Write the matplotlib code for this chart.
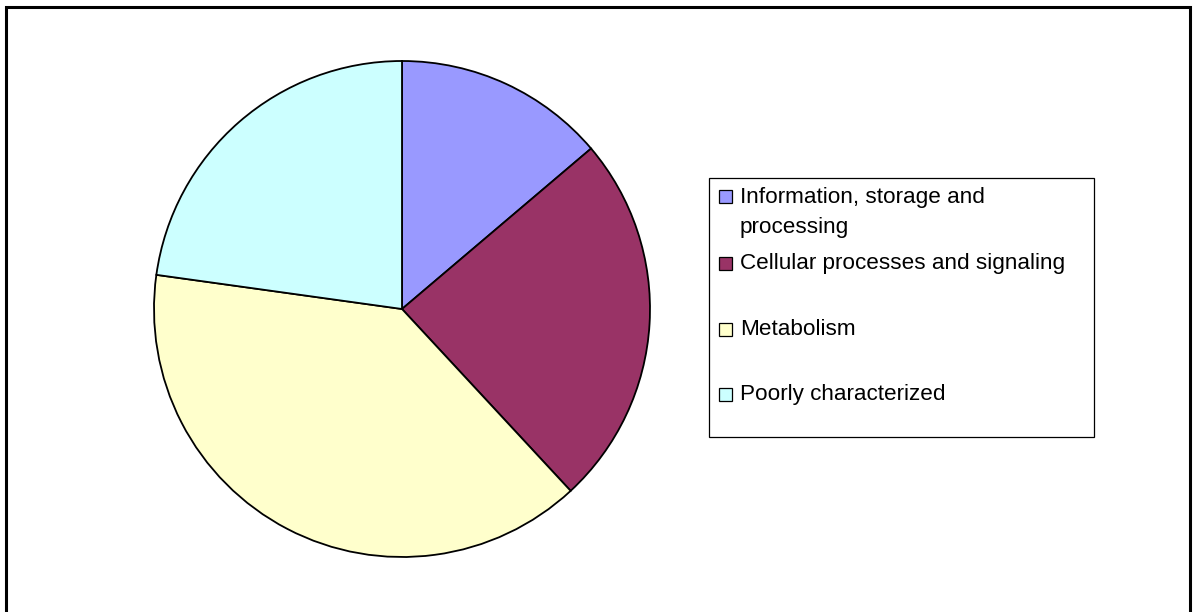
import matplotlib.pyplot as plt
from matplotlib.patches import Rectangle

categories = ['Information, storage and\nprocessing',
              'Cellular processes and signaling',
              'Metabolism',
              'Poorly characterized']
values = [13.8, 24.3, 39.1, 22.8]
colors = ['#9999FF', '#993366', '#FFFFCC', '#CCFFFF']

W, H = 1196, 612
fig = plt.figure(figsize=(W / 100, H / 100), dpi=100)
plt.rcParams['font.family'] = ['Liberation Sans', 'DejaVu Sans']

# outer chart frame
fig.patches.append(Rectangle((6 / W, -0.01), 1184 / W, 1 - 7 / H + 0.01,
                             transform=fig.transFigure, fill=False,
                             edgecolor='black', linewidth=2.2))

# pie: center (402, 309), radius 248 px
cx, cy, r = 402, 309, 248
ax = fig.add_axes([(cx - r) / W, (H - cy - r) / H, 2 * r / W, 2 * r / H])
ax.pie(values, colors=colors, startangle=90, counterclock=False,
       wedgeprops=dict(edgecolor='black', linewidth=1.3))
ax.set_xlim(-1.0, 1.0)
ax.set_ylim(-1.0, 1.0)
ax.set_aspect('auto')
ax.axis('off')

# legend drawn by hand to match the Excel layout
fig.patches.append(Rectangle((709 / W, 1 - 437 / H), 385 / W, 259 / H,
                             transform=fig.transFigure, fill=False,
                             edgecolor='black', linewidth=0.9))
square_y = [197, 263, 329, 394]
baseline_y = [203, 269, 335, 400]
for lab, col, sy, by in zip(categories, colors, square_y, baseline_y):
    fig.patches.append(Rectangle((719 / W, 1 - (sy + 6.5) / H), 13 / W, 13 / H,
                                 transform=fig.transFigure, facecolor=col,
                                 edgecolor='black', linewidth=0.9))
    for i, line in enumerate(lab.split('\n')):
        fig.text(740 / W, 1 - (by + 30 * i) / H, line, ha='left',
                 va='baseline', fontsize=16.2)

fig.savefig('out.png', dpi=100)
